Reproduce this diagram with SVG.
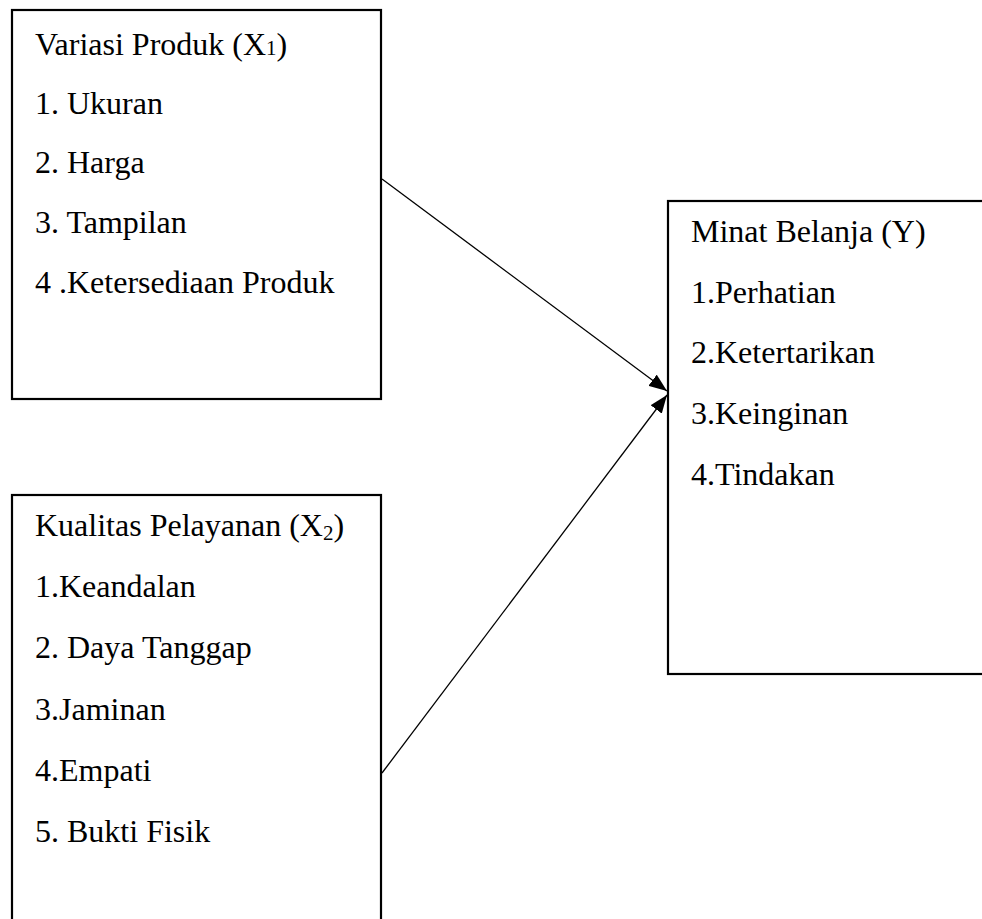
<svg xmlns="http://www.w3.org/2000/svg" width="982" height="919" viewBox="0 0 982 919">
<style>
.box{fill:#fff;stroke:#000;stroke-width:2.2}
.t{font-family:"Liberation Serif","Times New Roman",serif;font-size:32px;fill:#000}
.sub{font-size:21px}
.conn{stroke:#000;stroke-width:1.3;fill:none}
</style>
<defs>
<marker id="ah" viewBox="0 0 18 14" refX="18" refY="7" markerWidth="18" markerHeight="14" markerUnits="userSpaceOnUse" orient="auto">
<path d="M0,0 L18,7 L0,14 Z" fill="#000"/>
</marker>
</defs>
<rect width="982" height="919" fill="#fff"/>
<g id="x1">
<rect class="box" x="12" y="10" width="369" height="389"/>
<text class="t" x="35" y="55">Variasi Produk (X<tspan class="sub">1</tspan>)</text>
<text class="t" x="35" y="114">1. Ukuran</text>
<text class="t" x="35" y="173">2. Harga</text>
<text class="t" x="35" y="233">3. Tampilan</text>
<text class="t" x="35" y="293">4 .Ketersediaan Produk</text>
</g>
<g id="x2">
<rect class="box" x="12" y="495" width="369" height="440"/>
<text class="t" x="35" y="536">Kualitas Pelayanan (X<tspan class="sub" dy="4">2</tspan><tspan dy="-4">)</tspan></text>
<text class="t" x="35" y="597">1.Keandalan</text>
<text class="t" x="35" y="658">2. Daya Tanggap</text>
<text class="t" x="35" y="720">3.Jaminan</text>
<text class="t" x="35" y="781">4.Empati</text>
<text class="t" x="35" y="842">5. Bukti Fisik</text>
</g>
<g id="y">
<rect class="box" x="668" y="201" width="330" height="473"/>
<text class="t" x="691" y="242">Minat Belanja (Y)</text>
<text class="t" x="691" y="303">1.Perhatian</text>
<text class="t" x="691" y="363">2.Ketertarikan</text>
<text class="t" x="691" y="424">3.Keinginan</text>
<text class="t" x="691" y="485">4.Tindakan</text>
</g>
<g id="connectors">
<line class="conn" x1="382" y1="179" x2="667" y2="391" marker-end="url(#ah)"/>
<line class="conn" x1="382" y1="773" x2="667" y2="395" marker-end="url(#ah)"/>
</g>
</svg>
